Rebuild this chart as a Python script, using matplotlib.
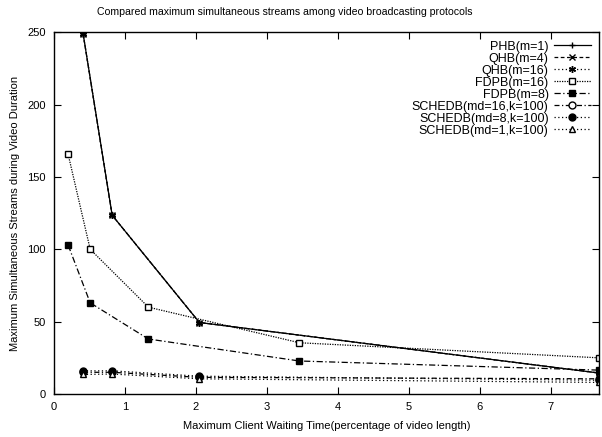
import matplotlib.pyplot as plt

# waiting time (% of video length)
x_hb = [0.41, 0.82, 2.05, 7.68]
x_fdpb = [0.20, 0.51, 1.33, 3.46, 7.68]
x_sch = [0.41, 0.82, 2.05, 7.68]

phb_m1 = [249, 123.5, 49.4, 14.5]
qhb_m4 = [249, 123.5, 49.4, 14.5]
qhb_m16 = [249, 123.5, 49.4, 14.5]
fdpb_m16 = [165.5, 100, 60, 35.4, 25]
fdpb_m8 = [102.8, 63, 38, 22.8, 16.5]
sched_md16 = [15.0, 15.0, 11.5, 10.5]
sched_md8 = [16.0, 16.0, 12.3, 9.5]
sched_md1 = [13.5, 13.8, 10.5, 8.0]

plt.rcParams['font.family'] = ['Liberation Sans', 'DejaVu Sans']
plt.rcParams['font.size'] = 8

fig = plt.figure(figsize=(6.02, 4.37), dpi=100)
ax = fig.add_axes([0.0897, 0.0984, 0.905, 0.828])

k = dict(color='black', linewidth=0.9, markersize=5, clip_on=True)
ax.plot(x_hb, phb_m1, '-', marker='+', label='PHB(m=1)', **k)
ax.plot(x_hb, qhb_m4, linestyle=(0, (3, 2)), marker='x', label='QHB(m=4)', **k)
ax.plot(x_hb, qhb_m16, linestyle=(0, (1, 2)), marker=(6, 2, 0), label='QHB(m=16)', **k)
ax.plot(x_fdpb, fdpb_m16, linestyle=(0, (1, 1)), marker='s', markerfacecolor='white',
        label='FDPB(m=16)', **k)
ax.plot(x_fdpb, fdpb_m8, linestyle=(0, (5, 2, 1, 2)), marker='s', label='FDPB(m=8)', **k)
ax.plot(x_sch, sched_md16, linestyle=(0, (4, 2, 1, 2)), marker='o', markerfacecolor='white',
        label='SCHEDB(md=16,k=100)', **k)
ax.plot(x_sch, sched_md8, linestyle=(0, (1, 2)), marker='o', label='SCHEDB(md=8,k=100)', **k)
ax.plot(x_sch, sched_md1, linestyle=(0, (1, 2)), marker='^', markerfacecolor='white',
        label='SCHEDB(md=1,k=100)', **k)

ax.set_xlim(0, 7.68)
ax.set_ylim(0, 250)
ax.set_xticks(range(0, 8))
ax.set_yticks(range(0, 251, 50))
ax.tick_params(direction='in', top=True, right=True, length=5, width=0.8, pad=6)
for s in ax.spines.values():
    s.set_linewidth(1.0)

fig.text(285 / 602, 1 - 12 / 437, 'Compared maximum simultaneous streams among video broadcasting protocols',
         fontsize=7.6, ha='center', va='center')
ax.set_xlabel('Maximum Client Waiting Time(percentage of video length)', labelpad=6)
ax.set_ylabel('Maximum Simultaneous Streams during Video Duration', labelpad=5)

leg = ax.legend(loc='upper right', frameon=False, markerfirst=False, fontsize=9,
                handlelength=3.0, labelspacing=0.0, borderaxespad=0.0,
                bbox_to_anchor=(0.995, 0.99), handletextpad=0.4)
for t in leg.get_texts():
    t.set_ha('right')

fig.savefig('out.png', dpi=100)
